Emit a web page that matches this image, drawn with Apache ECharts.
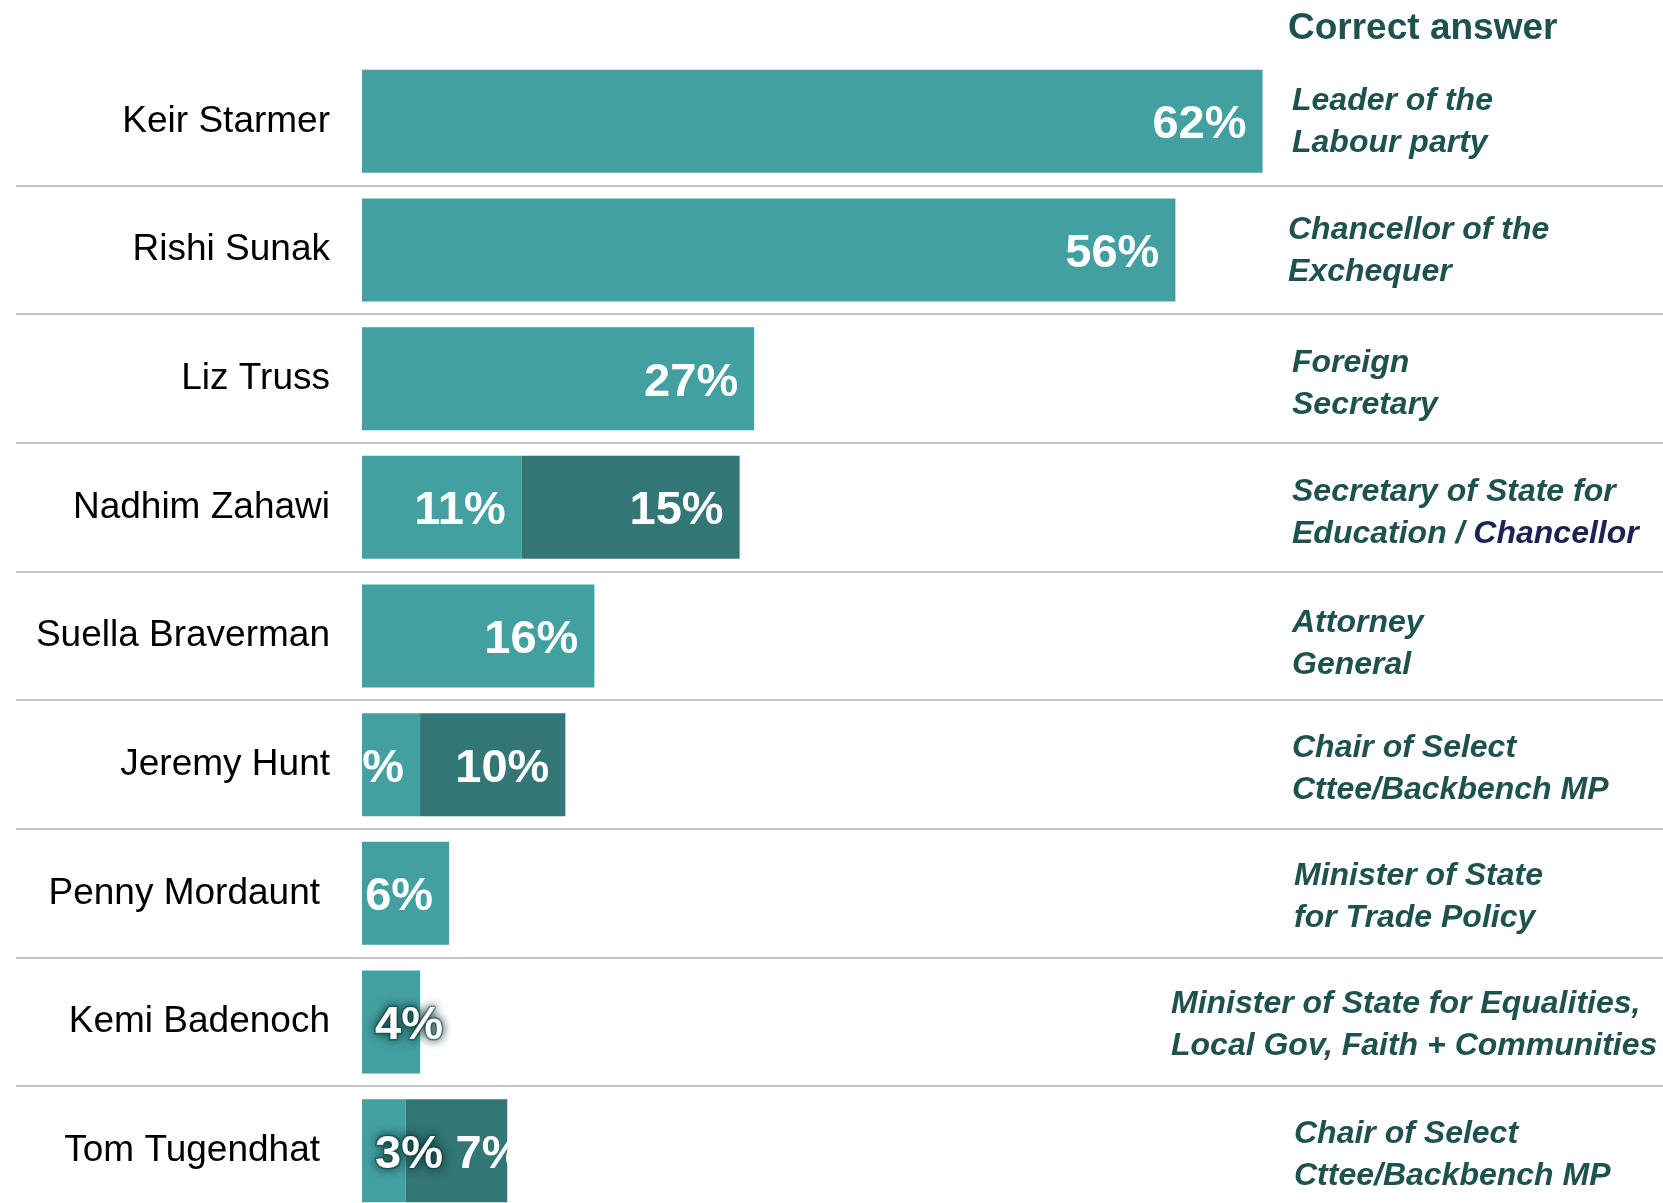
<!DOCTYPE html>
<html>
<head>
<meta charset="utf-8">
<title>Correct answer</title>
<script src="https://cdn.jsdelivr.net/npm/echarts@6/dist/echarts.min.js"></script>
<style>
  html, body { margin: 0; padding: 0; background: #fff; overflow: hidden; }
  /* last bar runs to the very bottom edge, so the chart is a bit taller than the window */
  #chart { width: 1663px; height: 1216px; }
</style>
</head>
<body>
<div id="chart"></div>
<script>
// people asked about, top to bottom
const names = ['Keir Starmer', 'Rishi Sunak', 'Liz Truss', 'Nadhim Zahawi', 'Suella Braverman',
  'Jeremy Hunt', 'Penny Mordaunt', 'Kemi Badenoch', 'Tom Tugendhat'];
// % who gave the correct answer
const correctPct = [62, 56, 27, 11, 16, 4, 6, 4, 3];
// % who gave the other accepted answer (darker block)
const otherPct = ['-', '-', '-', 15, '-', 10, '-', '-', 7];
// the correct answer text per person
const answers = [
  'Leader of the\nLabour party',
  'Chancellor of the\nExchequer',
  'Foreign\nSecretary',
  'Secretary of State for\nEducation / {navy|Chancellor}',
  'Attorney\nGeneral',
  'Chair of Select\nCttee/Backbench MP',
  'Minister of State\nfor Trade Policy',
  'Minister of State for Equalities,\nLocal Gov, Faith + Communities',
  'Chair of Select\nCttee/Backbench MP'
];

// layout tweaks
const answerX = [1292, 1288, 1292, 1292, 1292, 1292, 1294, 1171, 1294];
const answerDy = [1, 1, 6, 6, 8, 5, 4, 3, 5];
const namePad = [0, 0, 0, 0, 0, 0, 10, 0, 10];
const glowRows = [7, 8]; // labels spilling past tiny bars get a dark halo

const FONT = '"Liberation Sans", Arial, sans-serif';
const LIGHT = '#43a0a0';
const DARK = '#327676';
const GREEN_TEXT = '#1e524f';

const chart = echarts.init(document.getElementById('chart'));

const barLabel = {
  show: true,
  position: 'insideRight',
  distance: 16,
  offset: [0, 4],
  formatter: '{c}%',
  color: '#fff',
  fontFamily: FONT,
  fontSize: 47,
  fontWeight: 'bold'
};

const option = {
  animation: false,
  title: {
    text: 'Correct answer',
    left: 1288,
    top: 10,
    padding: 0,
    textStyle: {
      fontFamily: FONT,
      fontSize: 37,
      fontWeight: 'bold',
      color: GREEN_TEXT
    }
  },
  grid: {
    left: 362,
    top: 57,
    width: 1162,
    height: 1158
  },
  xAxis: {
    type: 'value',
    min: 0,
    max: 80,
    show: false
  },
  yAxis: {
    type: 'category',
    inverse: true,
    data: names.map((n, i) => ({
      value: n,
      textStyle: { padding: [4, namePad[i], 0, 0] }
    })),
    axisLine: { show: false },
    axisTick: { show: false },
    splitLine: { show: false },
    axisLabel: {
      margin: 32,
      color: '#000',
      fontFamily: FONT,
      fontSize: 37
    }
  },
  series: [
    {
      name: 'Correct',
      type: 'bar',
      stack: 'total',
      barWidth: 103,
      itemStyle: { color: LIGHT },
      label: barLabel,
      data: correctPct.map((v, i) => glowRows.includes(i) ? {
        value: v,
        label: {
          position: 'insideLeft',
          distance: 13,
          textBorderColor: 'rgba(18, 62, 62, 0.5)',
          textBorderWidth: 3,
          textShadowColor: '#0f3636',
          textShadowBlur: 10
        }
      } : v)
    },
    {
      name: 'Other answer',
      type: 'bar',
      stack: 'total',
      barWidth: 103,
      itemStyle: { color: DARK },
      label: barLabel,
      data: otherPct.map((v, i) => i === 8 ? {
        value: v,
        label: { position: 'insideLeft', distance: 50 }
      } : v)
    }
  ]
};

chart.setOption(option);

// separators and answer texts, placed from the axis scale
const rowY = names.map((n, i) => chart.convertToPixel({ yAxisIndex: 0 }, i));
const graphics = [];
for (let i = 1; i < rowY.length; i++) {
  const y = Math.round((rowY[i - 1] + rowY[i]) / 2);
  graphics.push({
    type: 'line',
    shape: { x1: 16, y1: y, x2: 1663, y2: y },
    style: { stroke: '#c4c4c4', lineWidth: 2 },
    silent: true
  });
}
answers.forEach((t, i) => {
  graphics.push({
    type: 'text',
    x: answerX[i],
    y: rowY[i] + answerDy[i],
    style: {
      text: t,
      fill: GREEN_TEXT,
      font: 'italic bold 32px ' + FONT,
      lineHeight: 42,
      verticalAlign: 'middle',
      align: 'left',
      rich: {
        navy: {
          fill: '#1c2353',
          font: 'italic bold 32px ' + FONT
        }
      }
    },
    silent: true
  });
});
chart.setOption({ graphic: graphics });

window.addEventListener('resize', () => {
  chart.resize();
});
</script>
</body>
</html>
